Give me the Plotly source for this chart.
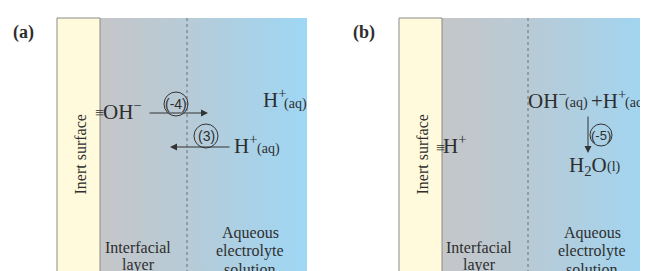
import plotly.graph_objects as go

W, H = 648, 271
OFF = 8  # page body margin of the written html
FW, FH = W - OFF, H - OFF  # figure size so that it ends at the window edge

# ---- diagram content (text labels) ----
panel_labels = ["(a)", "(b)"]
surface_label = "Inert surface"
layer_lines = ["Interfacial", "layer"]
solution_lines = ["Aqueous", "electrolyte", "solution"]
step_labels = ["(-4)", "(3)", "(-5)"]
phase_aq = "(aq)"
phase_l = "(l)"
bond = "≡"
species_main = ["OH<sup>−</sup>", "H<sup>+</sup>", "H<sup>+</sup>",
                "H<sup>+</sup>", "OH<sup>−</sup>", "+H<sup>+</sup>", "H<sub>2</sub>O"]

SERIF = "Liberation Serif, Times New Roman, serif"
SANS = "Liberation Sans, Arial, sans-serif"
TXT = "#2e2e2e"
grad_scale = [[0, "#c5c6c8"], [0.45, "#b6cbd8"], [1, "#9ed7f5"]]

fig = go.Figure()

def gradient_box(x0, x1, y0, y1):
    fig.add_trace(go.Scatter(
        x=[x0, x1, x1, x0, x0], y=[y0, y0, y1, y1, y0],
        mode="lines", line=dict(width=0), fill="toself",
        fillgradient=dict(type="horizontal", colorscale=grad_scale),
        hoverinfo="skip", showlegend=False))

# panel geometry: (surface left, surface right, gradient right, dotted x)
panels = [(57, 100, 307, 187), (399, 442, 660, 528)]
top = 18
for (sl, sr, gr, dx) in panels:
    gradient_box(sr, gr, top, H + 20)

shapes = []
for (sl, sr, gr, dx) in panels:
    shapes.append(dict(type="rect", x0=sl, x1=sr, y0=top, y1=H + 20,
                       fillcolor="#fffadc", line=dict(color="#8a8a8a", width=1)))
    shapes.append(dict(type="line", x0=dx, x1=dx, y0=top, y1=H + 20,
                       line=dict(color="#6e6e6e", width=1, dash="dot")))

# reaction step circles
circles = [(176, 104, 12), (206, 136, 12), (601, 135, 11)]
for (cx, cy, r) in circles:
    shapes.append(dict(type="circle", x0=cx - r, x1=cx + r, y0=cy - r, y1=cy + r,
                       line=dict(color="#333333", width=1)))

ann = []
def text(x, y, s, size=21, family=SERIF, **kw):
    ann.append(dict(x=x, y=y, xref="x", yref="y", text=s, showarrow=False,
                    font=dict(family=family, size=size, color=TXT),
                    borderpad=0, **kw))

def arrow(x0, y0, x1, y1):
    ann.append(dict(x=x1, y=y1, ax=x0, ay=y0, xref="x", yref="y", axref="x", ayref="y",
                    text="", showarrow=True, arrowhead=2, arrowsize=1.4, arrowwidth=1,
                    arrowcolor="#333333", standoff=0, startstandoff=0))

# panel letters
text(23, 32, "<b>" + panel_labels[0] + "</b>", size=18)
text(364, 32, "<b>" + panel_labels[1] + "</b>", size=18)

for (sl, sr, gr, dx) in panels:
    text((sl + sr) / 2 + 1, 155, surface_label, size=16, textangle=-90)

# region captions
for cx, lines, ys in [(138, layer_lines, [247, 265]),
                      (250, solution_lines, [233, 251, 269]),
                      (479, layer_lines, [247, 265]),
                      (592, solution_lines, [233, 251, 269])]:
    for ln, yy in zip(lines, ys):
        text(cx, yy, ln, size=16)

# ---- panel (a) ----
text(99, 112, bond, size=16)
text(102, 110, species_main[0], xanchor="left")
text(262, 98, species_main[1], xanchor="left")
text(283, 104, phase_aq, size=14, xanchor="left")
text(233, 144, species_main[2], xanchor="left")
text(256, 149, phase_aq, size=14, xanchor="left")
arrow(148, 113, 208, 113)
arrow(231, 147, 170, 147)
text(176, 104, step_labels[0], size=14, family=SANS)
text(206, 136, step_labels[1], size=14, family=SANS)

# ---- panel (b) ----
text(440, 147, bond, size=16)
text(442, 144, species_main[3], xanchor="left")
text(527, 99, species_main[4], xanchor="left")
text(564, 103, phase_aq, size=14, xanchor="left")
text(590, 99, species_main[5], xanchor="left")
text(624, 103, phase_aq, size=14, xanchor="left")
arrow(588, 115, 588, 153)
text(601, 135, step_labels[2], size=13, family=SANS)
text(568, 166, species_main[6], xanchor="left")
text(606, 167, phase_l, size=14, xanchor="left")

fig.update_layout(
    width=FW, height=FH, margin=dict(l=0, r=0, t=0, b=0),
    paper_bgcolor="white", plot_bgcolor="white",
    xaxis=dict(range=[OFF, W], visible=False, fixedrange=True),
    yaxis=dict(range=[H, OFF], visible=False, fixedrange=True),
    shapes=shapes, annotations=ann, showlegend=False,
)
fig.write_html("out.html")
